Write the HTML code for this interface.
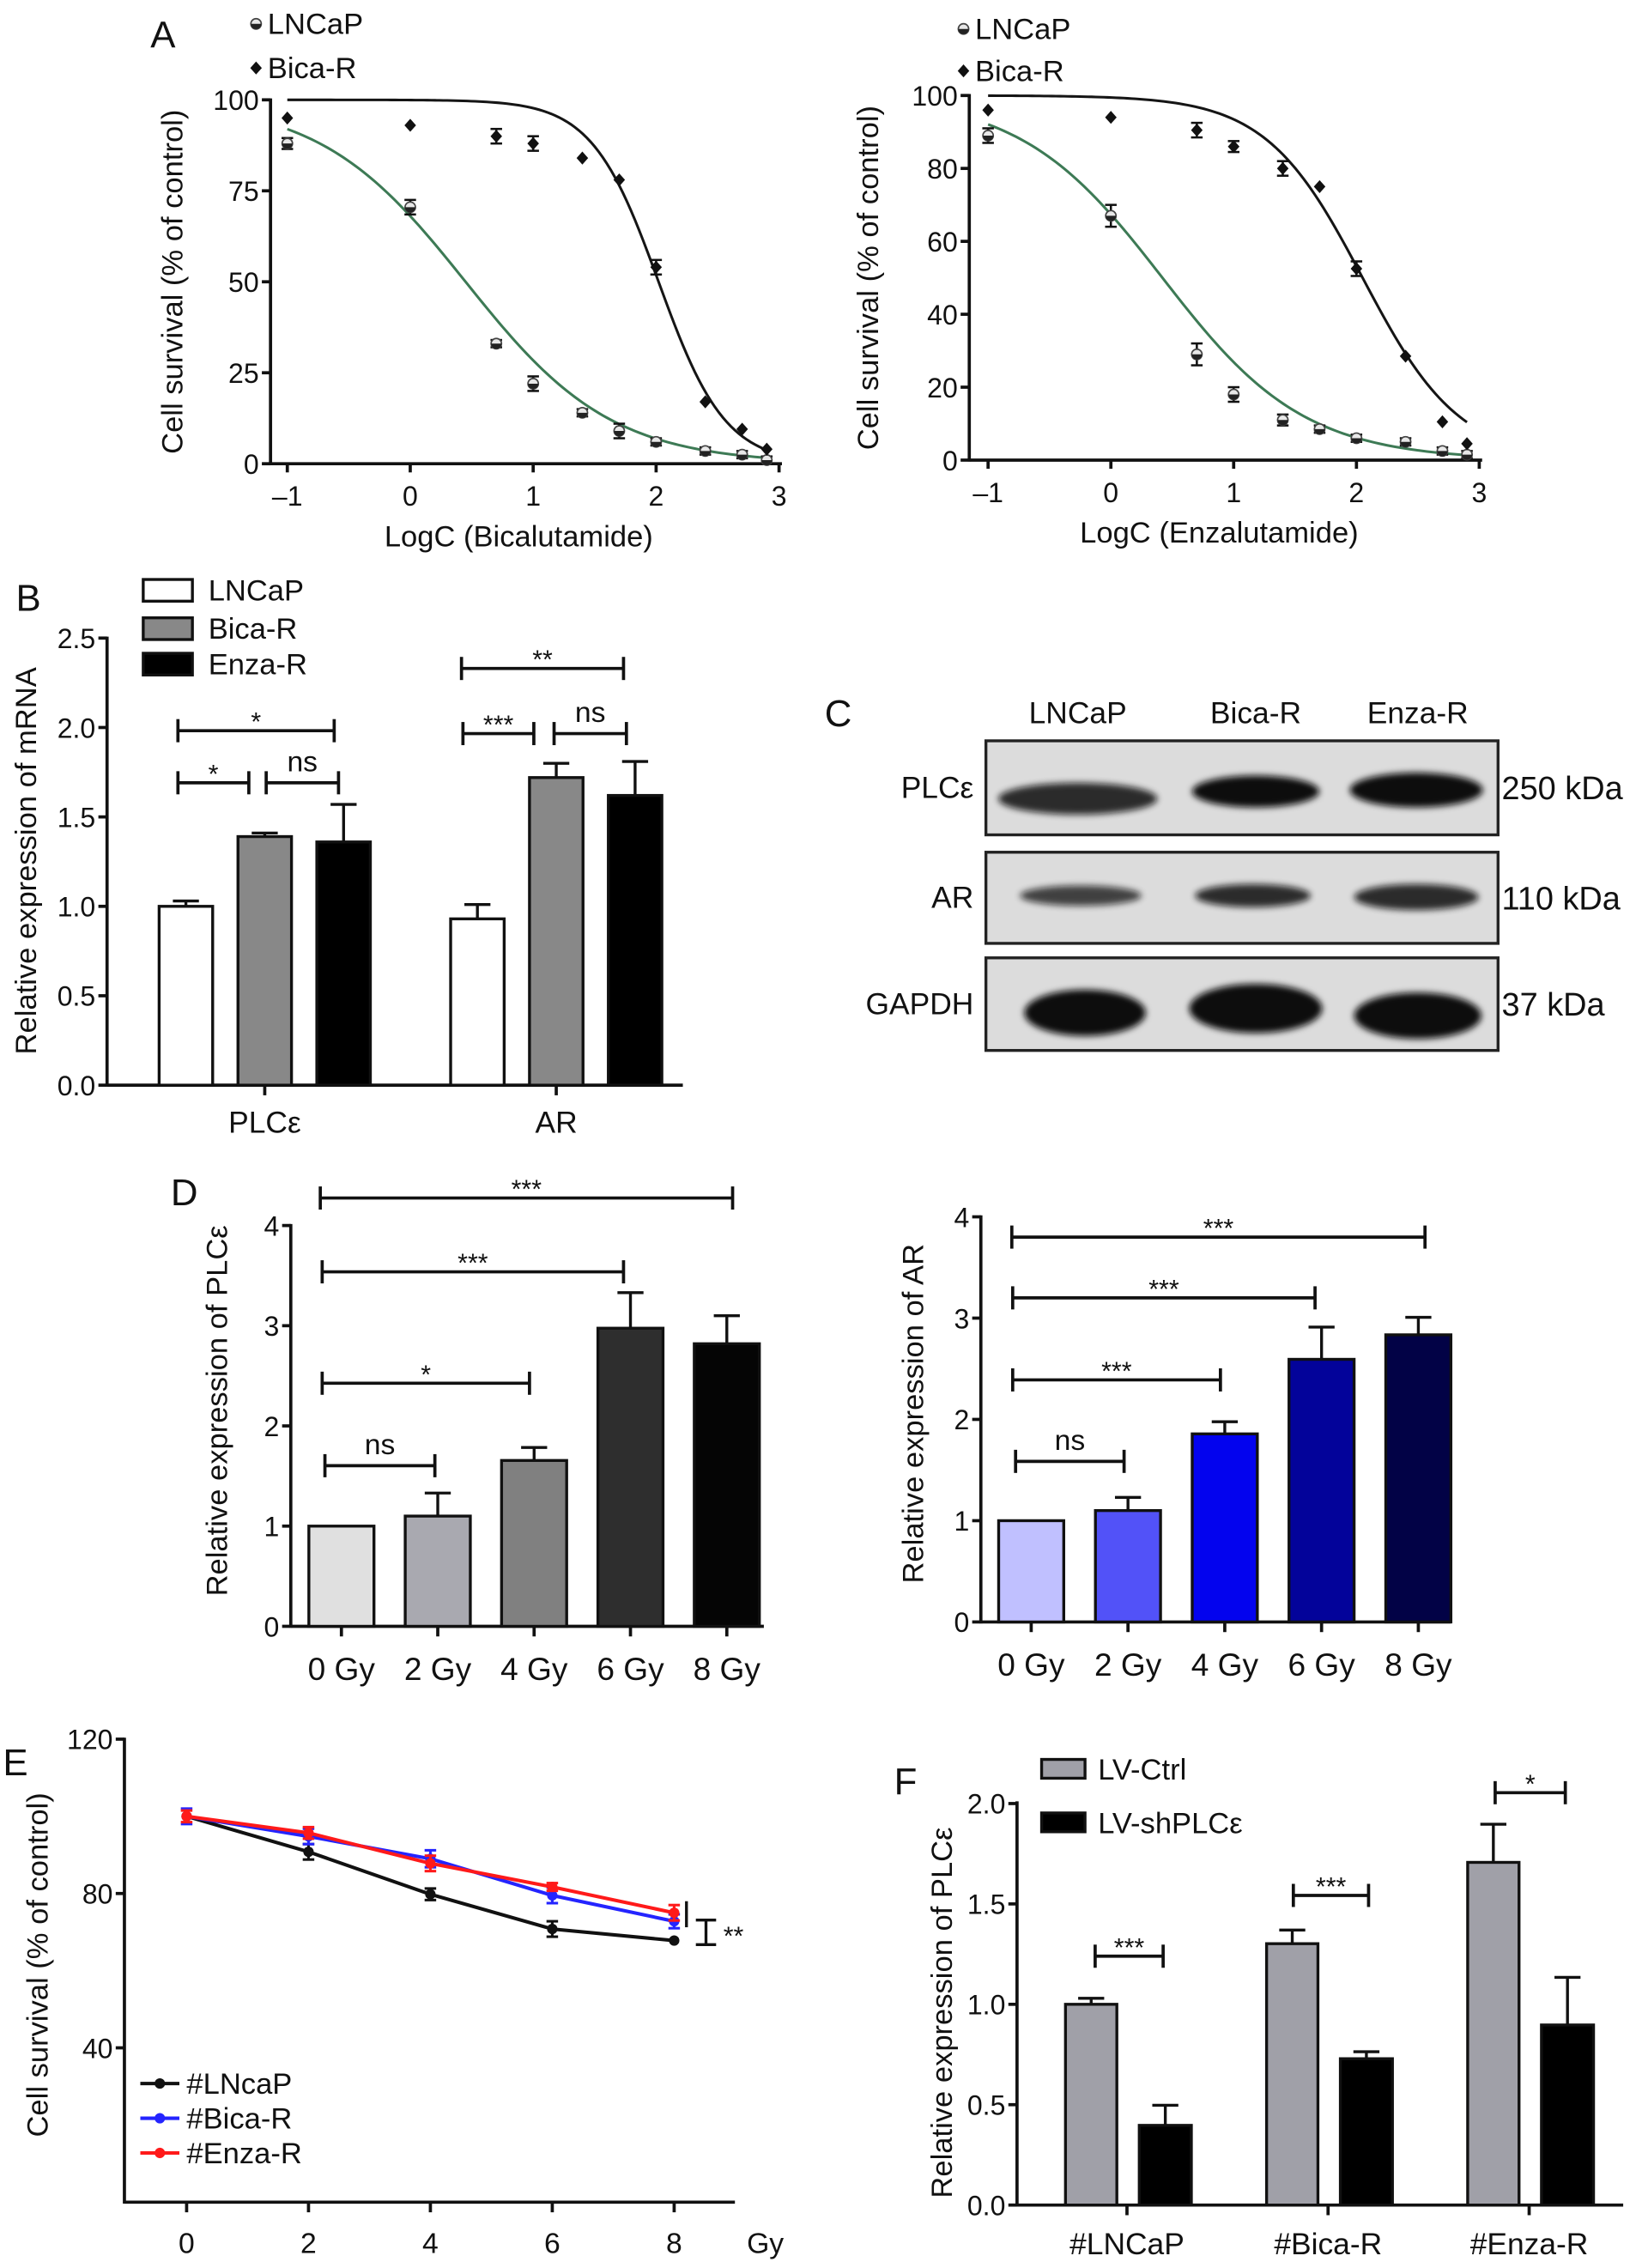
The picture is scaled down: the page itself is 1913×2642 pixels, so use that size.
<!DOCTYPE html>
<html><head><meta charset="utf-8">
<style>
html,body{margin:0;padding:0;background:#fff;}
svg{display:block;font-family:"Liberation Sans",Arial,sans-serif;}
</style></head>
<body>
<svg id="fig" width="1913" height="2642" viewBox="0 0 1135 1567.5" preserveAspectRatio="none" xmlns="http://www.w3.org/2000/svg">
<rect x="0" y="0" width="1135" height="1567.5" fill="#fff"/>
</svg>
<script>
// ---------- Panel A data ----------
const aLogC = [-1, 0, 0.7, 1, 1.4, 1.7, 2, 2.4, 2.7, 2.9];
const aBicaLNCaP = [88, 70.5, 33, 22, 14, 9, 6, 3.5, 2.5, 1];
const aBicaLNCaPErr = [1.5, 2, 1, 2, 1, 2, 1, 1, 1, 1];
const aBicaRes = [95, 93, 90, 88, 84, 78, 54, 17, 9.5, 4];
const aBicaResErr = [0, 0, 2, 2, 0, 0, 2, 0, 0, 0];
const aBicaFitLN = [100, 0.45, 0.73];
const aBicaFitR = [100, 2.02, 1.6];
const aEnzLNCaP = [89, 67, 29, 18, 11, 8.5, 6, 5, 2.5, 1.5];
const aEnzLNCaPErr = [2, 3, 3, 2, 1.5, 1, 1, 1, 1, 1];
const aEnzRes = [96, 94, 90.5, 86, 80, 75, 52.5, 28.5, 10.5, 4.5];
const aEnzResErr = [0, 0, 2, 1.5, 2, 0, 2, 0, 0, 0];
const aEnzFitLN = [100, 0.42, 0.75];
const aEnzFitR = [100, 2.05, 1.1];
const aXTicks = [-1, 0, 1, 2, 3];
const aXTickLabels = ["\u20131", "0", "1", "2", "3"];
const aLeftYTicks = [0, 25, 50, 75, 100];
const aRightYTicks = [0, 20, 40, 60, 80, 100];
// ---------- Panel B data ----------
const bGroups = ["PLC\u03b5", "AR"];
const bSeries = ["LNCaP", "Bica-R", "Enza-R"];
const bPLC = [1.0, 1.39, 1.36];
const bPLCErr = [0.03, 0.02, 0.21];
const bAR = [0.93, 1.72, 1.62];
const bARErr = [0.08, 0.08, 0.19];
const bYTicks = [0, 0.5, 1.0, 1.5, 2.0, 2.5];
// ---------- Panel D data ----------
const dCats = ["0 Gy", "2 Gy", "4 Gy", "6 Gy", "8 Gy"];
const dPLC = [1.0, 1.1, 1.655, 2.975, 2.82];
const dPLCErr = [0, 0.23, 0.13, 0.355, 0.28];
const dAR = [1.0, 1.1, 1.857, 2.593, 2.835];
const dARErr = [0, 0.13, 0.12, 0.318, 0.173];
const dYTicks = [0, 1, 2, 3, 4];
// ---------- Panel E data ----------
const eDose = [0, 2, 4, 6, 8];
const eLNCaP = [100, 90.8, 79.8, 70.8, 67.8];
const eLNCaPErr = [0, 2, 1.5, 2, 0];
const eBica = [100, 94.8, 89, 79.5, 72.8];
const eBicaErr = [2, 2, 2.2, 2, 1.8];
const eEnza = [100, 95.7, 87.8, 81.7, 75];
const eEnzaErr = [1.5, 1.5, 2, 1, 2];
const eYTicks = [40, 80, 120];
const eXTicks = [0, 2, 4, 6, 8];
// ---------- Panel F data ----------
const fGroups = ["#LNCaP", "#Bica-R", "#Enza-R"];
const fCtrl = [1.0, 1.302, 1.707];
const fCtrlErr = [0.03, 0.068, 0.19];
const fSh = [0.397, 0.729, 0.897];
const fShErr = [0.1, 0.035, 0.237];
const fYTicks = [0.0, 0.5, 1.0, 1.5, 2.0];

const NS = "http://www.w3.org/2000/svg";
const svg = document.getElementById("fig");
function mk(tag, attrs, name, parent) {
  const el = document.createElementNS(NS, tag);
  for (const k in attrs) el.setAttribute(k, attrs[k]);
  
  
  (parent || svg).appendChild(el);
  return el;
}
function ln(x1, y1, x2, y2, name, color, w) {
  return mk("line", {x1: x1, y1: y1, x2: x2, y2: y2, stroke: color || "#111", "stroke-width": w || 2.2}, name);
}
function tx(x, y, s, name, size, anchor, extra) {
  const a = {x: x, y: y, "font-size": size || 18, "text-anchor": anchor || "middle", fill: "#111"};
  if (extra) for (const k in extra) a[k] = extra[k];
  const t = mk("text", a, name);
  t.textContent = s;
  return t;
}
function lin(d0, d1, r0, r1) { return v => r0 + (v - d0) * (r1 - r0) / (d1 - d0); }
function hill(p, x) { return p[0] / (1 + Math.pow(10, (x - p[1]) * p[2])); }
const TITLE = 20.5, LEG = 20.5;

// ===== Panel A =====
function panelA(o) {
  const X = lin(-1, 3, o.x0, o.x3);
  const Y = lin(0, 100, o.y0, o.y100);
  ln(o.ax, o.y0, o.x3 + 2, o.y0, "x-axis-" + o.id);
  ln(o.ax, o.y0 + 1, o.ax, o.y100 - 1, "y-axis-" + o.id);
  aXTicks.forEach((t, i) => {
    ln(X(t), o.y0, X(t), o.y0 + 6, "x-tick-" + o.id);
    tx(X(t), o.y0 + 29, aXTickLabels[i], "x-tick-label-" + o.id, 19);
  });
  o.yt.forEach(t => {
    ln(o.ax - 6, Y(t), o.ax, Y(t), "y-tick-" + o.id);
    tx(o.ax - 8, Y(t) + 7, String(t), "y-tick-label-" + o.id, 19, "end");
  });
  tx((o.x0 + o.x3) / 2 - 10, o.y0 + 57, o.xtitle, "x-axis-title-" + o.id, TITLE);
  tx(o.tx, (o.y0 + o.y100) / 2, "Cell survival (% of control)", "y-axis-title-" + o.id, TITLE, "middle", {transform: "rotate(-90 " + o.tx + " " + (o.y0 + o.y100) / 2 + ")"});
  function curve(p, color, name) {
    let d = "";
    for (let i = 0; i <= 120; i++) {
      const x = -1 + i * 3.9 / 120;
      d += (i ? "L" : "M") + X(x).toFixed(2) + "," + Y(hill(p, x)).toFixed(2);
    }
    mk("path", {d: d, fill: "none", stroke: color, "stroke-width": 1.8}, name);
  }
  curve(o.fitR, "#151515", "fit-curve-resistant-" + o.id);
  curve(o.fitL, "#3d7a55", "fit-curve-lncap-" + o.id);
  aLogC.forEach((c, i) => {
    const x = X(c);
    const yl = Y(o.ln[i]), el = o.lnErr[i];
    if (el > 0) {
      ln(x, Y(o.ln[i] - el), x, Y(o.ln[i] + el), "error-bar-lncap-" + o.id, "#111", 1.5);
      ln(x - 4, Y(o.ln[i] - el), x + 4, Y(o.ln[i] - el), "error-cap-lncap-" + o.id, "#111", 1.5);
      ln(x - 4, Y(o.ln[i] + el), x + 4, Y(o.ln[i] + el), "error-cap-lncap-" + o.id, "#111", 1.5);
    }
    mk("circle", {cx: x, cy: yl, r: 3.6, fill: "#e8e8e8", stroke: "#444", "stroke-width": 1}, "point-lncap-" + o.id);
    mk("path", {d: "M" + (x - 3.6) + "," + yl + " A3.6,3.6 0 0 0 " + (x + 3.6) + "," + yl + " Z", fill: "#222"}, "point-lncap-half-" + o.id);
    const yr = Y(o.rs[i]), er = o.rsErr[i];
    if (er > 0) {
      ln(x, Y(o.rs[i] - er), x, Y(o.rs[i] + er), "error-bar-resistant-" + o.id, "#111", 1.5);
      ln(x - 4, Y(o.rs[i] - er), x + 4, Y(o.rs[i] - er), "error-cap-resistant-" + o.id, "#111", 1.5);
      ln(x - 4, Y(o.rs[i] + er), x + 4, Y(o.rs[i] + er), "error-cap-resistant-" + o.id, "#111", 1.5);
    }
    mk("path", {d: "M" + x + "," + (yr - 4.5) + " L" + (x + 4) + "," + yr + " L" + x + "," + (yr + 4.5) + " L" + (x - 4) + "," + yr + " Z", fill: "#111"}, "point-resistant-" + o.id);
  });
  const lx = o.lx;
  mk("circle", {cx: lx, cy: o.ly1, r: 3.6, fill: "#e8e8e8", stroke: "#444", "stroke-width": 1}, "legend-marker-lncap-" + o.id);
  mk("path", {d: "M" + (lx - 3.6) + "," + o.ly1 + " A3.6,3.6 0 0 0 " + (lx + 3.6) + "," + o.ly1 + " Z", fill: "#222"}, "legend-marker-lncap-half-" + o.id);
  tx(lx + 8, o.ly1 + 7, "LNCaP", "legend-label-lncap-" + o.id, LEG, "start");
  mk("path", {d: "M" + lx + "," + (o.ly2 - 4.5) + " L" + (lx + 4) + "," + o.ly2 + " L" + lx + "," + (o.ly2 + 4.5) + " L" + (lx - 4) + "," + o.ly2 + " Z", fill: "#111"}, "legend-marker-resistant-" + o.id);
  tx(lx + 8, o.ly2 + 7, "Bica-R", "legend-label-resistant-" + o.id, LEG, "start");
}
panelA({id: "a-bicalutamide", ax: 187, x0: 198.6, x3: 538.5, y0: 320.5, y100: 69, yt: aLeftYTicks,
  ln: aBicaLNCaP, lnErr: aBicaLNCaPErr, rs: aBicaRes, rsErr: aBicaResErr, fitL: aBicaFitLN, fitR: aBicaFitR,
  xtitle: "LogC (Bicalutamide)", tx: 126, lx: 177, ly1: 16.5, ly2: 47});
panelA({id: "a-enzalutamide", ax: 670, x0: 683, x3: 1022.5, y0: 318, y100: 66, yt: aRightYTicks,
  ln: aEnzLNCaP, lnErr: aEnzLNCaPErr, rs: aEnzRes, rsErr: aEnzResErr, fitL: aEnzFitLN, fitR: aEnzFitR,
  xtitle: "LogC (Enzalutamide)", tx: 607, lx: 666, ly1: 20, ly2: 49});
tx(104, 33, "A", "panel-label-a", 26, "start");

function bracket(x1, x2, y, label, name) {
  ln(x1, y, x2, y, name + "-line", "#111", 2.2);
  ln(x1, y - 8, x1, y + 8, name + "-left", "#111", 2.2);
  ln(x2, y - 8, x2, y + 8, name + "-right", "#111", 2.2);
  if (label === "ns") tx((x1 + x2) / 2, y - 8, "ns", name + "-label", 20);
  else tx((x1 + x2) / 2, y, label, name + "-label", 18);
}
function barWithErr(x, w, yTop, yErr, y0, fill, name) {
  if (yErr < yTop - 0.5) {
    ln(x + w / 2, yTop, x + w / 2, yErr, name + "-error", "#111", 2);
    ln(x + w / 2 - 9, yErr, x + w / 2 + 9, yErr, name + "-error-cap", "#111", 2);
  }
  mk("rect", {x: x, y: yTop, width: w, height: y0 - yTop, fill: fill, stroke: "#111", "stroke-width": 2}, name);
}

// ===== Panel B =====
(function () {
  const ax = 74, Y = lin(0, 2.5, 750, 441);
  const bFills = ["#ffffff", "#888888", "#000000"];
  const grpC = [183, 384.5];
  const offs = [-54.5, 0, 54.5];
  const w = 37;
  ln(ax, 750, 472, 750, "x-axis-b");
  ln(ax, 751, ax, 440, "y-axis-b");
  bYTicks.forEach(t => {
    ln(ax - 6, Y(t), ax, Y(t), "y-tick-b");
    tx(ax - 8, Y(t) + 7, t.toFixed(1), "y-tick-label-b", 19, "end");
  });
  bGroups.forEach((g, gi) => {
    ln(grpC[gi], 750, grpC[gi], 757, "x-tick-b");
    tx(grpC[gi], 783, g, "x-tick-label-b", 21);
    const vals = gi === 0 ? bPLC : bAR, errs = gi === 0 ? bPLCErr : bARErr;
    vals.forEach((v, i) => {
      const x = grpC[gi] + offs[i] - w / 2;
      barWithErr(x, w, Y(v), Y(v + errs[i]), 750, bFills[i], "bar-b-" + bSeries[i].toLowerCase() + "-" + (gi ? "ar" : "plc"));
    });
  });
  bSeries.forEach((s, i) => {
    const yy = [408, 434.5, 459][i];
    mk("rect", {x: 99, y: yy - 7.5, width: 34, height: 15, fill: bFills[i], stroke: "#111", "stroke-width": 2}, "legend-swatch-b-" + s.toLowerCase());
    tx(144, yy + 7, s, "legend-label-b-" + s.toLowerCase(), LEG, "start");
  });
  tx(25, 595, "Relative expression of mRNA", "y-axis-title-b", TITLE, "middle", {transform: "rotate(-90 25 595)"});
  bracket(123, 231, 505, "*", "sig-b-plc-lncap-enza");
  bracket(123, 172, 541, "*", "sig-b-plc-lncap-bica");
  bracket(184, 234, 541, "ns", "sig-b-plc-bica-enza");
  bracket(319, 431, 462, "**", "sig-b-ar-lncap-enza");
  bracket(320, 369, 507, "***", "sig-b-ar-lncap-bica");
  bracket(383, 433, 507, "ns", "sig-b-ar-bica-enza");
  tx(11, 422, "B", "panel-label-b", 26, "start");
})();

// ===== Panel C (western blot) =====
(function () {
  tx(570, 502, "C", "panel-label-c", 26, "start");
  const cols = [745, 868, 980], colNames = ["LNCaP", "Bica-R", "Enza-R"];
  cols.forEach((c, i) => tx(c, 500, colNames[i], "blot-column-label", 21));
  const defs = mk("defs", {}, "blot-defs");
  const f = mk("filter", {id: "blur", x: "-20%", y: "-50%", width: "140%", height: "200%"}, "blur-filter", defs);
  mk("feGaussianBlur", {stdDeviation: 2.2}, "blur", f);
  const rows = [
    {y1: 512, y2: 577, name: "PLC\u03b5", kda: "250 kDa", bands: [[745, 552, 55, 11, 0.85], [868, 547, 44, 11, 1], [979, 546, 46, 12, 1]]},
    {y1: 589, y2: 652, name: "AR", kda: "110 kDa", bands: [[747, 619, 42, 7, 0.75], [866, 619, 40, 8, 0.85], [979, 620, 43, 9, 0.85]]},
    {y1: 662, y2: 726, name: "GAPDH", kda: "37 kDa", bands: [[750, 700, 42, 16, 1], [868, 697, 46, 17, 1], [980, 702, 44, 16, 1]]}
  ];
  rows.forEach(r => {
    mk("rect", {x: 681.5, y: r.y1, width: 354, height: r.y2 - r.y1, fill: "#dcdcdc", stroke: "#222", "stroke-width": 2}, "blot-membrane-" + r.name.toLowerCase());
    r.bands.forEach(b => mk("ellipse", {cx: b[0], cy: b[1], rx: b[2], ry: b[3], fill: "#0a0a0a", opacity: b[4], filter: "url(#blur)"}, "blot-band-" + r.name.toLowerCase()));
    tx(673, (r.y1 + r.y2) / 2 + 7, r.name, "blot-row-label", 21, "end");
    tx(1038, (r.y1 + r.y2) / 2 + 8, r.kda, "blot-kda-label", 22.5, "start");
  });
})();

// ===== Panel D =====
function panelD(o) {
  const Y = lin(0, 4, o.y0, o.y4);
  ln(o.ax, o.y0, o.xend, o.y0, "x-axis-" + o.id);
  ln(o.ax, o.y0 + 1, o.ax, o.y4 - 1, "y-axis-" + o.id);
  dYTicks.forEach(t => {
    ln(o.ax - 6, Y(t), o.ax, Y(t), "y-tick-" + o.id);
    tx(o.ax - 8, Y(t) + 7, String(t), "y-tick-label-" + o.id, 19, "end");
  });
  dCats.forEach((c, i) => {
    const cx = o.c0 + i * o.step;
    barWithErr(cx - 22.5, 45, Y(o.vals[i]), Y(o.vals[i] + o.errs[i]), o.y0, o.fills[i], "bar-" + o.id + "-" + c.replace(" ", "").toLowerCase());
    ln(cx, o.y0, cx, o.y0 + 7, "x-tick-" + o.id);
    tx(cx, o.y0 + 37, c, "x-tick-label-" + o.id, 22);
  });
  tx(o.tx, o.ty, o.title, "y-axis-title-" + o.id, TITLE, "middle", {transform: "rotate(-90 " + o.tx + " " + o.ty + ")"});
  o.br.forEach(b => bracket(b[0], b[1], b[2], b[3], "sig-" + o.id));
}
panelD({id: "d-plc", ax: 201, y0: 1124, y4: 847, xend: 528, c0: 236, step: 66.6, vals: dPLC, errs: dPLCErr,
  fills: ["#e0e0e0", "#a9a9b0", "#808080", "#2e2e2e", "#050505"], title: "Relative expression of PLC\u03b5", tx: 157, ty: 975,
  br: [[224.6, 300.6, 1013, "ns"], [222.7, 366, 956, "*"], [222.7, 431, 879, "***"], [221.4, 506.4, 828, "***"]]});
panelD({id: "d-ar", ax: 678, y0: 1121, y4: 841, xend: 1003, c0: 712.8, step: 66.9, vals: dAR, errs: dARErr,
  fills: ["#c0c0ff", "#5252f8", "#0303ee", "#03039a", "#020246"], title: "Relative expression of AR", tx: 638, ty: 977,
  br: [[702, 777, 1010, "ns"], [700, 843.6, 953.7, "***"], [700, 909, 897, "***"], [699.4, 985, 855, "***"]]});
tx(118, 833, "D", "panel-label-d", 26, "start");

// ===== Panel E =====
(function () {
  const X = lin(0, 8, 129, 466), Y = lin(0, 120, 1522, 1202);
  ln(86, 1522, 508, 1522, "x-axis-e");
  ln(86, 1523, 86, 1201, "y-axis-e");
  eYTicks.forEach(t => {
    ln(80, Y(t), 86, Y(t), "y-tick-e");
    tx(78, Y(t) + 7, String(t), "y-tick-label-e", 19, "end");
  });
  eXTicks.forEach(t => {
    ln(X(t), 1522, X(t), 1529, "x-tick-e");
    tx(X(t), 1557, String(t), "x-tick-label-e", 20);
  });
  tx(529, 1557, "Gy", "x-axis-unit-e", 20, "middle");
  tx(33, 1358, "Cell survival (% of control)", "y-axis-title-e", TITLE, "middle", {transform: "rotate(-90 33 1358)"});
  const series = [[eLNCaP, eLNCaPErr, "#111111", "lncap"], [eBica, eBicaErr, "#2424ff", "bica-r"], [eEnza, eEnzaErr, "#ff1a1a", "enza-r"]];
  series.forEach(s => {
    let d = "";
    eDose.forEach((g, i) => { d += (i ? "L" : "M") + X(g) + "," + Y(s[0][i]); });
    mk("path", {d: d, fill: "none", stroke: s[2], "stroke-width": 2.4}, "line-e-" + s[3]);
    eDose.forEach((g, i) => {
      const x = X(g), e = s[1][i];
      if (e > 0) {
        ln(x, Y(s[0][i] - e), x, Y(s[0][i] + e), "error-bar-e-" + s[3], s[2], 1.8);
        ln(x - 4, Y(s[0][i] - e), x + 4, Y(s[0][i] - e), "error-cap-e-" + s[3], s[2], 1.8);
        ln(x - 4, Y(s[0][i] + e), x + 4, Y(s[0][i] + e), "error-cap-e-" + s[3], s[2], 1.8);
      }
      mk("circle", {cx: x, cy: Y(s[0][i]), r: 3.6, fill: s[2]}, "point-e-" + s[3]);
    });
  });
  const leg = [["#LNcaP", "#111111", 1440], ["#Bica-R", "#2424ff", 1464], ["#Enza-R", "#ff1a1a", 1488]];
  leg.forEach(l => {
    ln(97, l[2], 124, l[2], "legend-line-e", l[1], 2.4);
    mk("circle", {cx: 110.5, cy: l[2], r: 3.6, fill: l[1]}, "legend-marker-e");
    tx(129, l[2] + 7, l[0], "legend-label-e", LEG, "start");
  });
  ln(474.5, 1314, 474.5, 1332, "sig-e-bar", "#111", 2);
  ln(488, 1327, 488, 1344, "sig-e-bracket", "#111", 2);
  ln(481, 1327, 495, 1327, "sig-e-bracket-top", "#111", 2);
  ln(481, 1344, 495, 1344, "sig-e-bracket-bottom", "#111", 2);
  tx(500, 1344, "**", "sig-e-label", 18, "start");
  tx(2, 1227, "E", "panel-label-e", 26, "start");
})();

// ===== Panel F =====
(function () {
  const ax = 703, Y = lin(0, 2, 1524, 1246.5);
  const grpC = [779, 918, 1057];
  ln(ax, 1524, 1122, 1524, "x-axis-f");
  ln(ax, 1525, ax, 1245, "y-axis-f");
  fYTicks.forEach(t => {
    ln(ax - 6, Y(t), ax, Y(t), "y-tick-f");
    tx(ax - 8, Y(t) + 7, t.toFixed(1), "y-tick-label-f", 19, "end");
  });
  fGroups.forEach((g, i) => {
    ln(grpC[i], 1524, grpC[i], 1531, "x-tick-f");
    tx(grpC[i], 1558, g, "x-tick-label-f", 21);
    barWithErr(grpC[i] - 42.5, 35.5, Y(fCtrl[i]), Y(fCtrl[i] + fCtrlErr[i]), 1524, "#a0a0a8", "bar-f-lv-ctrl");
    barWithErr(grpC[i] + 8.5, 36, Y(fSh[i]), Y(fSh[i] + fShErr[i]), 1524, "#000000", "bar-f-lv-shplc");
  });
  mk("rect", {x: 720, y: 1216, width: 30, height: 13, fill: "#a0a0a8", stroke: "#111", "stroke-width": 2}, "legend-swatch-f-ctrl");
  tx(759, 1230, "LV-Ctrl", "legend-label-f-ctrl", LEG, "start");
  mk("rect", {x: 720, y: 1253, width: 30, height: 13, fill: "#000", stroke: "#111", "stroke-width": 2}, "legend-swatch-f-sh");
  tx(759, 1267, "LV-shPLC\u03b5", "legend-label-f-sh", LEG, "start");
  tx(658, 1391, "Relative expression of PLC\u03b5", "y-axis-title-f", TITLE, "middle", {transform: "rotate(-90 658 1391)"});
  bracket(757, 804, 1352, "***", "sig-f-lncap");
  bracket(894, 946, 1310, "***", "sig-f-bica");
  bracket(1033.5, 1082, 1239, "*", "sig-f-enza");
  tx(618, 1240, "F", "panel-label-f", 26, "start");
})();
</script>
</body></html>
